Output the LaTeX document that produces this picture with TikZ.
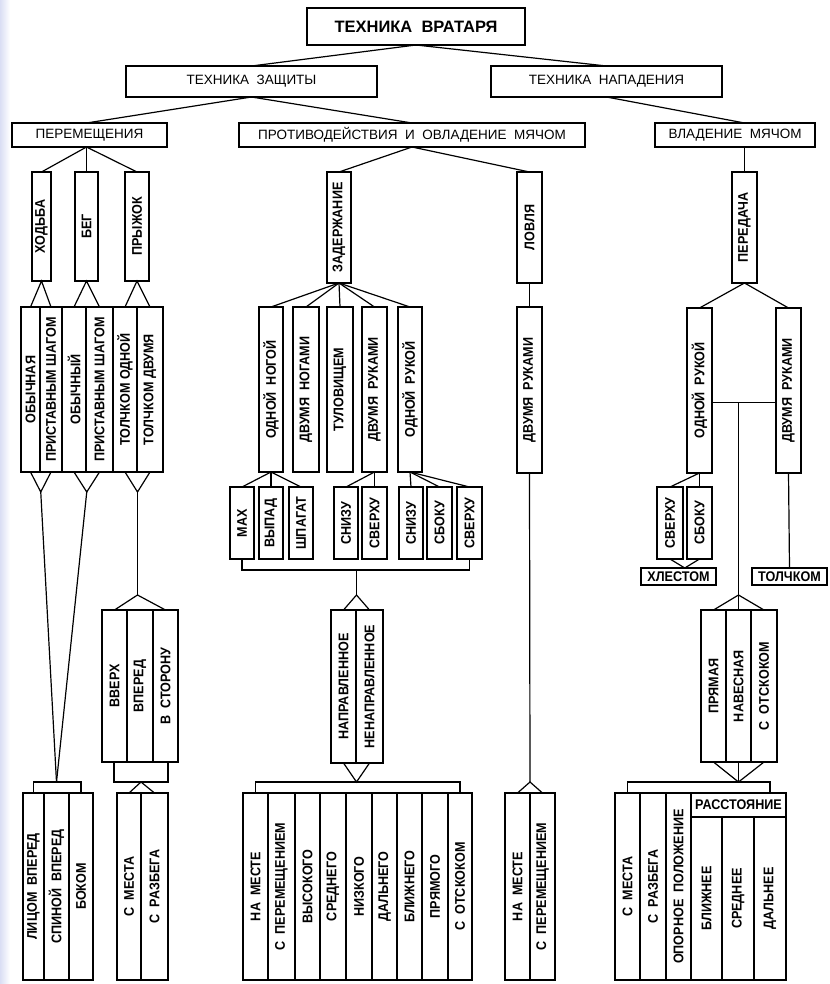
\documentclass[tikz,border=0pt]{standalone}
\usepackage{fontspec}
\setmainfont{Liberation Sans}
\newfontfamily\condsans{Liberation Sans}[FakeStretch=0.9]
\usepackage{graphicx}
\usetikzlibrary{calc}
\definecolor{stripblue}{RGB}{218,222,244}
\newcommand{\uptext}[1]{\rotatebox{90}{#1}}

\begin{document}
\begin{tikzpicture}[
  x=1pt, y=-1pt,
  every node/.style={inner sep=0pt, outer sep=0pt},
  hcell/.style 2 args={draw, line width=1.3pt, minimum width=#1, minimum height=#2,
                       font=\fontsize{13.5}{15}\selectfont},
  vcell/.style 2 args={draw, line width=1.3pt, minimum width=#1, minimum height=#2,
                       font=\condsans\fontsize{14}{16}\selectfont\bfseries},
  link/.style={line width=1.2pt},
]
  \useasboundingbox (0,0) rectangle (829,984);
  \fill[left color=stripblue, right color=white] (0,0) rectangle (10,984);

  % Top levels
  \node[hcell={218}{37}, font=\fontsize{16.5}{18}\selectfont\bfseries] (root) at (416,26.5) {ТЕХНИКА\ \ ВРАТАРЯ};
  \node[hcell={251}{31}] (zash) at (251.5,81.5) {ТЕХНИКА\ \ ЗАЩИТЫ};
  \node[hcell={231}{31}] (napad) at (606.5,81.5) {ТЕХНИКА\ \ НАПАДЕНИЯ};
  \node[hcell={155}{24}] (perem) at (89.5,135) {ПЕРЕМЕЩЕНИЯ};
  \node[hcell={346}{24}] (protiv) at (412,135) {ПРОТИВОДЕЙСТВИЯ\ \ И\ \ ОВЛАДЕНИЕ\ \ МЯЧОМ};
  \node[hcell={160}{24}] (vlad) at (735,135) {ВЛАДЕНИЕ\ \ МЯЧОМ};

  % Third level
  \node[vcell={19}{109}] (hod) at (41.5,226.5) {\uptext{ХОДЬБА}};
  \node[vcell={23}{109}] (beg) at (86.5,226.5) {\uptext{БЕГ}};
  \node[vcell={24}{109}] (pry) at (137,226.5) {\uptext{ПРЫЖОК}};
  \node[vcell={24}{111}] (zad) at (339,227.5) {\uptext{ЗАДЕРЖАНИЕ}};
  \node[vcell={25}{111}] (lov) at (529.5,227.5) {\uptext{ЛОВЛЯ}};
  \node[vcell={25}{111}] (pered) at (744.5,227.5) {\uptext{ПЕРЕДАЧА}};

  % Movement kinds
  \node[vcell={19}{165}] (hod1) at (30.5,389.5) {\uptext{ОБЫЧНАЯ}};
  \node[vcell={22}{165}] (hod2) at (51,389.5) {\uptext{ПРИСТАВНЫМ ШАГОМ}};
  \node[vcell={24}{165}] (beg1) at (74,389.5) {\uptext{ОБЫЧНЫЙ}};
  \node[vcell={27}{165}] (beg2) at (99.5,389.5) {\uptext{ПРИСТАВНЫМ ШАГОМ}};
  \node[vcell={24}{165}] (pry1) at (125,389.5) {\uptext{ТОЛЧКОМ ОДНОЙ}};
  \node[vcell={26}{165}] (pry2) at (150,389.5) {\uptext{ТОЛЧКОМ ДВУМЯ}};

  % Stopping kinds
  \node[vcell={24}{165}] (zad1) at (271,389.5) {\uptext{ОДНОЙ\ \ НОГОЙ}};
  \node[vcell={26}{165}] (zad2) at (306,389.5) {\uptext{ДВУМЯ\ \ НОГАМИ}};
  \node[vcell={26}{165}] (zad3) at (340,389.5) {\uptext{ТУЛОВИЩЕМ}};
  \node[vcell={25}{165}] (zad4) at (374.5,389.5) {\uptext{ДВУМЯ\ \ РУКАМИ}};
  \node[vcell={24}{165}] (zad5) at (410,389.5) {\uptext{ОДНОЙ\ \ РУКОЙ}};
  \node[vcell={25}{166}] (lov1) at (529.5,390) {\uptext{ДВУМЯ\ \ РУКАМИ}};
  \node[vcell={25}{165}] (pered1) at (699.5,390.5) {\uptext{ОДНОЙ\ \ РУКОЙ}};
  \node[vcell={25}{165}] (pered2) at (788.5,390.5) {\uptext{ДВУМЯ\ \ РУКАМИ}};

  % Small boxes
  \node[vcell={24}{72}] (mah) at (242,523) {\uptext{МАХ}};
  \node[vcell={24}{72}] (vypad) at (271,523) {\uptext{ВЫПАД}};
  \node[vcell={24}{72}] (shpag) at (301,523) {\uptext{ШПАГАТ}};
  \node[vcell={24}{72}] (snizuA) at (346,523) {\uptext{СНИЗУ}};
  \node[vcell={25}{72}] (sverhA) at (374.5,523) {\uptext{СВЕРХУ}};
  \node[vcell={24}{72}] (snizuB) at (411,523) {\uptext{СНИЗУ}};
  \node[vcell={25}{72}] (sbokB) at (439.5,523) {\uptext{СБОКУ}};
  \node[vcell={25}{72}] (sverhB) at (469.5,523) {\uptext{СВЕРХУ}};
  \node[vcell={26}{72}] (sverhC) at (670,523) {\uptext{СВЕРХУ}};
  \node[vcell={25}{72}] (sbokC) at (699.5,523) {\uptext{СБОКУ}};
  \node[vcell={75}{17}] (hlest) at (678.5,576.5) {ХЛЕСТОМ};
  \node[vcell={75}{17}] (tolch) at (789.5,576.5) {ТОЛЧКОМ};

  % Directions and trajectories
  \node[vcell={25}{152}] (vverh) at (114.5,686) {\uptext{ВВЕРХ}};
  \node[vcell={26}{152}] (vpered) at (140,686) {\uptext{ВПЕРЕД}};
  \node[vcell={25}{152}] (vstor) at (165.5,686) {\uptext{В\ \ СТОРОНУ}};
  \node[draw, line width=1.3pt, minimum width=54, minimum height=20] (vbar) at (141,772) {};
  \node[vcell={25}{153}] (napr) at (343.5,686.5) {\uptext{НАПРАВЛЕННОЕ}};
  \node[vcell={27}{153}] (nenapr) at (369.5,686.5) {\uptext{НЕНАПРАВЛЕННОЕ}};
  \node[vcell={25}{152}] (pryam) at (713.5,686) {\uptext{ПРЯМАЯ}};
  \node[vcell={25}{152}] (navesn) at (738.5,686) {\uptext{НАВЕСНАЯ}};
  \node[vcell={26}{152}] (otsk) at (764,686) {\uptext{С\ \ ОТСКОКОМ}};

  % Bottom row
  \node[vcell={21}{187}] (lico) at (33.5,886.5) {\uptext{ЛИЦОМ\ \ ВПЕРЕД}};
  \node[vcell={25}{187}] (spin) at (56.5,886.5) {\uptext{СПИНОЙ\ \ ВПЕРЕД}};
  \node[vcell={24}{187}] (bokom) at (81,886.5) {\uptext{БОКОМ}};
  \node[vcell={24}{187}] (smestaA) at (129,886.5) {\uptext{С\ \ МЕСТА}};
  \node[vcell={27}{187}] (srazbA) at (154.5,886.5) {\uptext{С\ \ РАЗБЕГА}};

  \node[vcell={25}{187}] (namesto) at (255.5,886.5) {\uptext{НА\ \ МЕСТЕ}};
  \node[vcell={27}{187}] (speremA) at (281.5,886.5) {\uptext{С\ \ ПЕРЕМЕЩЕНИЕМ}};
  \node[vcell={25}{187}] (vysok) at (307.5,886.5) {\uptext{ВЫСОКОГО}};
  \node[vcell={26}{187}] (sredn) at (333,886.5) {\uptext{СРЕДНЕГО}};
  \node[vcell={26}{187}] (nizk) at (359,886.5) {\uptext{НИЗКОГО}};
  \node[vcell={25}{187}] (daln) at (384.5,886.5) {\uptext{ДАЛЬНЕГО}};
  \node[vcell={25}{187}] (blizh) at (409.5,886.5) {\uptext{БЛИЖНЕГО}};
  \node[vcell={26}{187}] (pryamo) at (435,886.5) {\uptext{ПРЯМОГО}};
  \node[vcell={24}{187}] (sotskA) at (460,886.5) {\uptext{С\ \ ОТСКОКОМ}};

  \node[vcell={25}{187}] (namestoB) at (517.5,886.5) {\uptext{НА\ \ МЕСТЕ}};
  \node[vcell={25}{187}] (speremB) at (542.5,886.5) {\uptext{С\ \ ПЕРЕМЕЩЕНИЕМ}};

  \node[vcell={25}{187}] (smestaB) at (627.5,886.5) {\uptext{С\ \ МЕСТА}};
  \node[vcell={26}{187}] (srazbB) at (653,886.5) {\uptext{С\ \ РАЗБЕГА}};
  \node[vcell={25}{187}] (opor) at (678.5,886.5) {\uptext{ОПОРНОЕ\ \ ПОЛОЖЕНИЕ}};
  \node[vcell={95}{24}] (rasst) at (738.5,805) {РАССТОЯНИЕ};
  \node[vcell={31}{163}] (blizhB) at (706.5,898.5) {\uptext{БЛИЖНЕЕ}};
  \node[vcell={32}{163}] (srednB) at (738,898.5) {\uptext{СРЕДНЕЕ}};
  \node[vcell={32}{163}] (dalnB) at (770,898.5) {\uptext{ДАЛЬНЕЕ}};

  % Connectors, top
  \draw[link] (root.south) -- (zash.north);
  \draw[link] (root.south) -- (napad.north);
  \draw[link] (zash.south) -- (perem.north -| beg.north);
  \draw[link] (zash.south) -- (protiv.north);
  \draw[link] (napad.south) -- (vlad.north -| pered.north);
  \draw[link] (vlad.south -| pered.north) -- (pered.north);
  \coordinate (pj) at (perem.south -| beg.north);
  \draw[link] (hod.north) -- (pj) -- (pry.north);
  \draw[link] (pj) -- (beg.north);
  \draw[link] (zad.north) -- (protiv.south) -- (lov.north);

  % Connectors, movements
  \draw[link] (hod1.north) -- (hod.south) -- (hod2.north);
  \draw[link] (beg1.north) -- (beg.south) -- (beg2.north);
  \draw[link] (pry1.north) -- (pry.south) -- (pry2.north);
  \coordinate (hodv) at ($(hod1.south)!.5!(hod2.south)+(0,20)$);
  \coordinate (begv) at ($(beg1.south)!.5!(beg2.south)+(0,20)$);
  \coordinate (pryv) at ($(pry1.south)!.5!(pry2.south)+(0,20)$);
  \draw[link] (hod1.south) -- (hodv) -- (hod2.south);
  \draw[link] (beg1.south) -- (begv) -- (beg2.south);
  \draw[link] (pry1.south) -- (pryv) -- (pry2.south);
  \coordinate (lbr) at ($(spin.north)+(0,-11)$);
  \draw[link] (hodv) -- (lbr);
  \draw[link] (begv) -- (lbr);
  \draw[link] (lico.north) -- ++(0,-11) -| (bokom.north);
  \draw[link] (pryv) -- ++(0,103) coordinate (vvj);
  \draw[link] (vverh.north) -- (vvj) -- (vstor.north);
  \draw[link] (smestaA.north) -- (vbar.south) -- (srazbA.north);

  % Connectors, stopping and catching
  \foreach \n in {zad1,zad2,zad3,zad4,zad5}
    \draw[link] (zad.south) -- (\n.north);
  \draw[link] (lov.south) -- (lov1.north);
  \foreach \n in {mah,vypad,shpag}
    \draw[link] (zad1.south) -- (\n.north);
  \foreach \n in {snizuA,sverhA}
    \draw[link] (zad4.south) -- (\n.north);
  \foreach \n in {snizuB,sbokB,sverhB}
    \draw[link] (zad5.south) -- (\n.north);
  \draw[link] (mah.south) -- ++(0,11) coordinate (zbar) -| (sverhB.south);
  \coordinate (nj) at ($(napr.north)!.5!(nenapr.north)+(0,-15)$);
  \draw[link] (nj |- zbar) -- (nj);
  \draw[link] (napr.north) -- (nj) -- (nenapr.north);
  \coordinate (nv) at ($(napr.south)!.5!(nenapr.south)+(0,19)$);
  \draw[link] (napr.south) -- (nv) -- (nenapr.south);
  \draw[link] (namesto.north) -- ++(0,-11) -| (sotskA.north);
  \coordinate (lj) at ($(namestoB.north)!.5!(speremB.north)+(0,-11)$);
  \draw[link] (lov1.south) -- (lj);
  \draw[link] (namestoB.north) -- (lj) -- (speremB.north);

  % Connectors, passing
  \draw[link] (pered1.north) -- (pered.south) -- (pered2.north);
  \draw[link] ($(pered1.east)+(0,12)$) coordinate (pbl) -- (pbl -| pered2.west);
  \coordinate (pj2) at ($(navesn.north)+(0,-15)$);
  \draw[link] (pj2 |- pbl) -- (pj2);
  \draw[link] (pryam.north) -- (pj2) -- (otsk.north);
  \draw[link] (pj2) -- (navesn.north);
  \draw[link] (pered1.south) -- (sverhC.north);
  \draw[link] (pered1.south) -- (sbokC.north);
  \coordinate (hv) at ($(sverhC.south)!.5!(sbokC.south)$);
  \draw[link] (sverhC.south) -- (hv |- hlest.north) -- (sbokC.south);
  \draw[link] (pered2.south) -- (tolch.north);
  \coordinate (pv) at ($(navesn.south)+(0,20)$);
  \draw[link] (pryam.south) -- (pv) -- (otsk.south);
  \draw[link] (navesn.south) -- (pv);
  \draw[link] (smestaB.north) -- ++(0,-11) -| (dalnB.north |- rasst.north);
\end{tikzpicture}
\end{document}
